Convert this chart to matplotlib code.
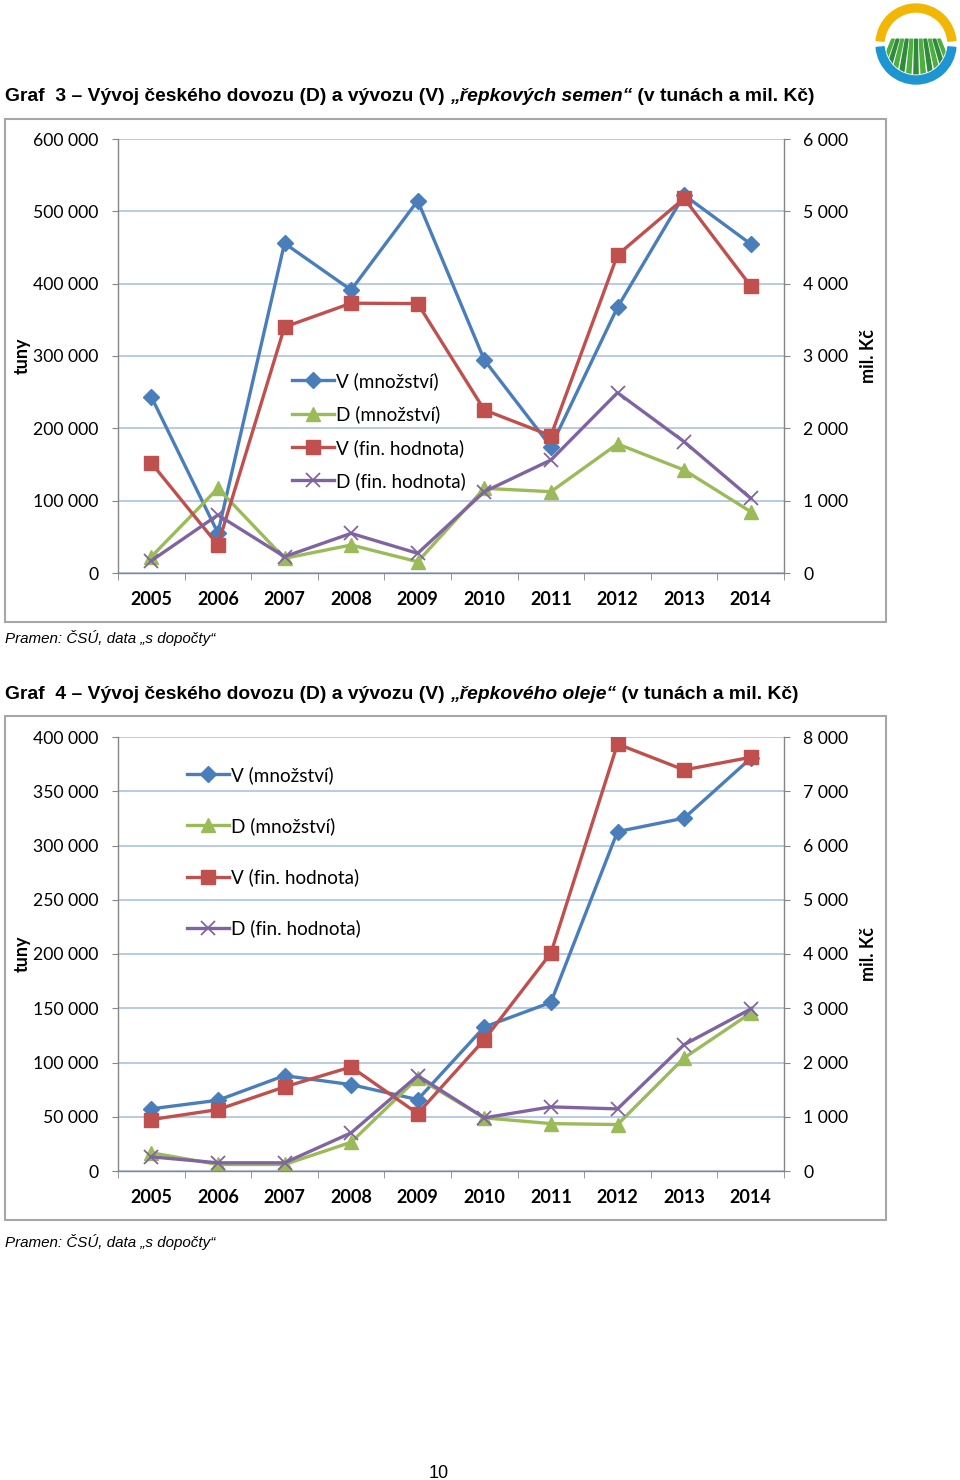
import matplotlib
matplotlib.use("Agg")
import matplotlib.pyplot as plt
import numpy as np
from matplotlib.ticker import FuncFormatter, MultipleLocator
from matplotlib.patches import Rectangle, Wedge, Polygon, Circle

W, H = 960, 1480

years = ["2005", "2006", "2007", "2008", "2009", "2010", "2011", "2012", "2013", "2014"]

# Graf 3 - řepková semena (tuny / mil. Kč)
seeds_v_qty = [243700, 55300, 455800, 391300, 514700, 294500, 174600, 367300, 522600, 454900]
seeds_d_qty = [22500, 117100, 20300, 38700, 15600, 117100, 112400, 178400, 142400, 84800]
seeds_v_val = [1521, 387, 3401, 3730, 3725, 2254, 1898, 4397, 5180, 3968]
seeds_d_val = [170, 802, 226, 548, 272, 1124, 1562, 2493, 1815, 1033]

# Graf 4 - řepkový olej (tuny / mil. Kč)
oil_v_qty = [57300, 65200, 87900, 79600, 65800, 132700, 155400, 312800, 325200, 380400]
oil_d_qty = [16800, 6000, 6000, 26500, 85800, 49000, 43700, 42800, 104200, 145600]
oil_v_val = [948, 1132, 1550, 1918, 1059, 2421, 4017, 7871, 7393, 7626]
oil_d_val = [261, 151, 151, 703, 1758, 980, 1182, 1145, 2329, 2986]

labels = ["V (množství)", "D (množství)", "V (fin. hodnota)", "D (fin. hodnota)"]

BLUE = "#4a7ebb"
GREEN = "#9bbb59"
RED = "#c0504d"
PURPLE = "#8064a2"
AXIS = "#868686"
GRID = "#b3c7e3"
TICK_FONT = "Lato"


def fx(px):
    return px / W


def fy(py):
    return 1 - py / H


def space_fmt(v, pos):
    return f"{int(round(v)):,}".replace(",", " ")


def draw_chart(fig, top, bottom, v_qty, d_qty, v_val, d_val, qty_max, qty_step, val_max, val_step,
               leg_x, leg_y, leg_spacing):
    ax = fig.add_axes([fx(118), fy(bottom), (784 - 118) / W, (bottom - top) / H])
    x = np.arange(len(years))
    lw = 2.4
    ax.plot(x, v_qty, color=BLUE, lw=lw, marker="D", ms=8, label=labels[0])
    ax.plot(x, d_qty, color=GREEN, lw=lw, marker="^", ms=10, label=labels[1])
    ax.set_xlim(-0.5, len(years) - 0.5)
    ax.set_ylim(0, qty_max)
    ax.yaxis.set_major_locator(MultipleLocator(qty_step))
    ax.yaxis.set_major_formatter(FuncFormatter(space_fmt))
    ax.yaxis.grid(True, color=GRID, lw=1.3)
    ax.set_axisbelow(True)

    ax2 = ax.twinx()
    ax2.plot(x, v_val, color=RED, lw=lw, marker="s", ms=10, label=labels[2])
    ax2.plot(x, d_val, color=PURPLE, lw=lw, marker="x", ms=10, mew=1.3, label=labels[3])
    ax2.set_ylim(0, val_max)
    ax2.yaxis.set_major_locator(MultipleLocator(val_step))
    ax2.yaxis.set_major_formatter(FuncFormatter(space_fmt))

    for a in (ax, ax2):
        a.spines["top"].set_visible(False)
        for s in a.spines.values():
            s.set_color(AXIS)
            s.set_linewidth(1.0)
    ax.spines["right"].set_visible(False)
    ax2.spines["left"].set_visible(False)
    ax2.spines["bottom"].set_visible(False)

    ax.set_xticks(x)
    ax.set_xticklabels(years, fontfamily=TICK_FONT, fontweight="bold", fontsize=13)
    ax.set_xticks(np.arange(-0.5, len(years), 1), minor=True)
    ax.tick_params(axis="x", which="major", length=0, pad=13, colors="black")
    ax.tick_params(axis="x", which="minor", length=5, color=AXIS)
    ax.tick_params(axis="y", length=4, color=AXIS, pad=10, labelsize=12.7)
    ax2.tick_params(axis="y", length=4, color=AXIS, pad=10, labelsize=12.7)
    for t in ax.get_yticklabels() + ax2.get_yticklabels():
        t.set_fontfamily(TICK_FONT)

    h1, l1 = ax.get_legend_handles_labels()
    h2, l2 = ax2.get_legend_handles_labels()
    ax2.legend(h1 + h2, l1 + l2, loc="upper left", bbox_to_anchor=(fx(leg_x), fy(leg_y)),
               bbox_transform=fig.transFigure, frameon=False, borderpad=0, borderaxespad=0,
               handlelength=2.2, handletextpad=0.12, labelspacing=leg_spacing,
               prop={"family": TICK_FONT, "size": 13.6})

    mid = (top + bottom) / 2
    fig.text(fx(22), fy(mid), "tuny", rotation=90, ha="center", va="center",
             fontfamily=TICK_FONT, fontweight="bold", fontsize=13)
    fig.text(fx(869), fy(mid), "mil. Kč", rotation=90, ha="center", va="center",
             fontfamily=TICK_FONT, fontweight="bold", fontsize=13)
    return ax, ax2


def mixed_text(fig, x, y, parts, size):
    renderer = fig.canvas.get_renderer()
    xf = fx(x)
    for txt, style in parts:
        t = fig.text(xf, fy(y), txt, fontsize=size, fontweight="bold", fontstyle=style,
                     fontfamily="Liberation Sans", va="baseline", ha="left")
        bb = t.get_window_extent(renderer)
        xf += bb.width / fig.bbox.width


def frame(fig, top, bottom):
    fig.add_artist(Rectangle((fx(5), fy(bottom)), (886 - 5) / W, (bottom - top) / H,
                             transform=fig.transFigure, fill=False, ec="#a6a6a6", lw=1.5))


def logo(fig):
    ax = fig.add_axes([fx(874), fy(86), 84 / W, 84 / H])
    ax.set_xlim(-1.05, 1.05)
    ax.set_ylim(-1.05, 1.05)
    ax.set_aspect("equal")
    ax.axis("off")
    ax.add_patch(Wedge((0, 0), 1.0, 5, 175, width=0.2, color="#f2b705"))
    ax.add_patch(Wedge((0, 0), 1.0, 185, 355, width=0.2, color="#1c95d2"))
    clip = Circle((0, 0), 0.76, transform=ax.transData)
    vp = (0, 1.6)
    y_top, y_bot = 0.12, -0.85
    k = (vp[1] - y_top) / (vp[1] - y_bot)
    for i, xb in enumerate(np.linspace(-0.95, 0.95, 11)):
        w = 0.055
        xa, xc = xb - w, xb + w
        pts = [(xa, y_bot), (vp[0] + (xa - vp[0]) * k, y_top),
               (vp[0] + (xc - vp[0]) * k, y_top), (xc, y_bot)]
        poly = Polygon(pts, color="#2e8b3a" if i % 2 else "#4caf3f")
        ax.add_patch(poly)
        poly.set_clip_path(clip)


fig = plt.figure(figsize=(W / 100, H / 100), dpi=100)

mixed_text(fig, 5, 101, [("Graf  3 – Vývoj českého dovozu (D) a vývozu (V) ", "normal"),
                         ("„řepkových semen“", "italic"),
                         (" (v tunách a mil. Kč)", "normal")], 13.85)
frame(fig, 119, 622)
draw_chart(fig, 139, 573, seeds_v_qty, seeds_d_qty, seeds_v_val, seeds_d_val,
           600000, 100000, 6000, 1000, 292, 372, 0.82)
fig.text(fx(5), fy(643), "Pramen: ČSÚ, data „s dopočty“", fontstyle="italic",
         fontfamily="Liberation Sans", fontsize=10.9, va="baseline")

mixed_text(fig, 5, 699, [("Graf  4 – Vývoj českého dovozu (D) a vývozu (V) ", "normal"),
                         ("„řepkového oleje“", "italic"),
                         (" (v tunách a mil. Kč)", "normal")], 13.85)
frame(fig, 716, 1220)
draw_chart(fig, 737, 1171, oil_v_qty, oil_d_qty, oil_v_val, oil_d_val,
           400000, 50000, 8000, 1000, 187, 766, 1.76)
fig.text(fx(5), fy(1247), "Pramen: ČSÚ, data „s dopočty“", fontstyle="italic",
         fontfamily="Liberation Sans", fontsize=10.9, va="baseline")

fig.text(fx(439), fy(1478), "10", fontfamily="Liberation Sans", fontsize=13, ha="center",
         va="baseline")

logo(fig)

fig.savefig("out.png", dpi=100)
